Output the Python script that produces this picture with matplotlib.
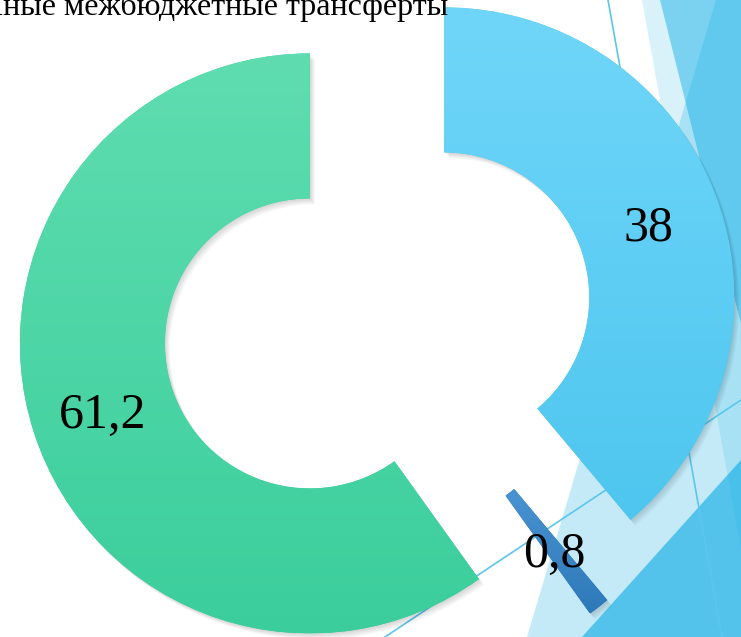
import matplotlib
matplotlib.use('Agg')
import matplotlib.pyplot as plt
import numpy as np
from matplotlib.patches import Polygon, Wedge
from matplotlib.colors import LinearSegmentedColormap

# ---- data ----
# slice sizes as drawn in the picture (angular extents), and the printed labels
values = [38.9, 1.2, 59.9]
value_labels = ['38', '0,8', '61,2']
title = 'Иные межбюджетные трансферты'
grad_top = ['#70D6F9', '#4A93D3', '#5FDDB1']
grad_bot = ['#4EC6EF', '#2E79B9', '#3BCE9C']

W, H = 741, 637
fig = plt.figure(figsize=(7.41, 6.37), dpi=100)
ax = fig.add_axes([0, 0, 1, 1])


def img(pts):
    return [(x, H - y) for x, y in pts]


# ---- background decoration (theme facets) ----
base = '#16AFE6'
decor = [
    ([(642, 0), (741, 0), (741, 550)], 0.16),
    ([(660, 0), (741, 0), (741, 324)], 0.48),
    ([(716, 0), (741, 0), (741, 637), (527, 637)], 0.25),
    ([(582, 637), (741, 460), (741, 637)], 0.65),
]
for pts, a in decor:
    ax.add_patch(Polygon(img(pts), closed=True, facecolor=base, alpha=a,
                         edgecolor='none', zorder=0))
for seg in ([(608, 0), (722, 637)], [(385, 637), (741, 400)]):
    xs, ys = zip(*img(seg))
    ax.plot(xs, ys, color='#5BC6EC', lw=1.2, zorder=1)

R, WID, EXP = 290, 145, 71
wedges, texts = ax.pie(
    values, startangle=90, counterclock=False, explode=[EXP] * 3,
    radius=R, center=(377.5, H - 321.7),
    labels=value_labels, labeldistance=(R - WID / 2) / R,
    wedgeprops=dict(width=WID, linewidth=0), colors=grad_bot, frame=True,
    textprops=dict(fontsize=36, family='Liberation Serif', color='black'))

for t in texts:
    t.set_ha('center')
    t.set_va('center_baseline')
    t.set_zorder(6)

for w, ct, cb in zip(wedges, grad_top, grad_bot):
    w.set_zorder(3)
    # soft shadow
    for k in range(1, 6):
        sh = Wedge((w.center[0] + 1.0 * k, w.center[1] - 1.2 * k), w.r,
                   w.theta1, w.theta2, width=w.width, facecolor='black',
                   alpha=0.03, edgecolor='none', zorder=2)
        ax.add_patch(sh)
    ext = w.get_path().get_extents()
    cmap = LinearSegmentedColormap.from_list('g', [cb, ct])
    grad = np.linspace(0, 1, 256).reshape(-1, 1)
    im = ax.imshow(grad, cmap=cmap, extent=(ext.x0, ext.x1, ext.y0, ext.y1),
                   origin='lower', aspect='auto', zorder=3.5,
                   interpolation='bilinear')
    im.set_clip_path(w)

ax.text(448, H - 15, title, ha='right', va='baseline', fontsize=23,
        family='Liberation Serif', color='black', zorder=6)

ax.set_xlim(0, W)
ax.set_ylim(0, H)
ax.set_aspect('auto')
ax.axis('off')
fig.savefig('out.png', dpi=100, facecolor='white')
